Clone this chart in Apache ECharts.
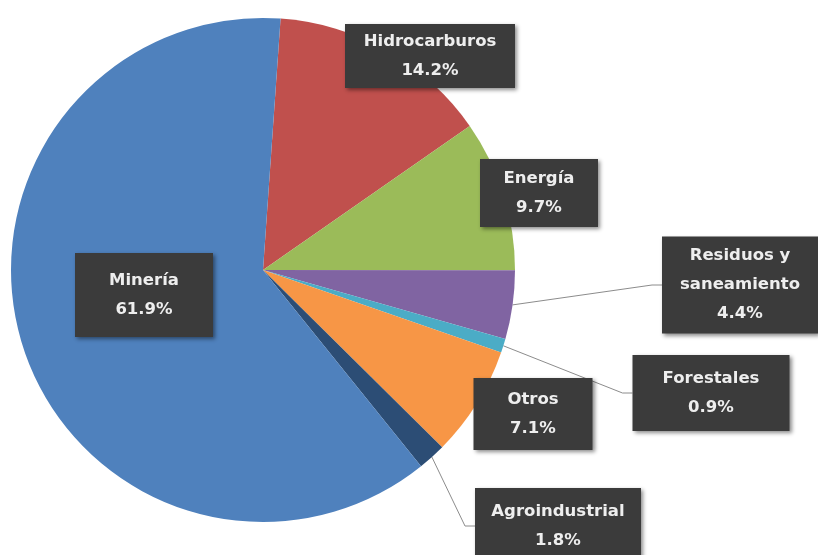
<!DOCTYPE html>
<html>
<head>
    <meta charset="utf-8">
    <title>ECharts</title>
    <script src="https://cdn.jsdelivr.net/npm/echarts@6/dist/echarts.min.js"></script>
</head>
<body style="margin:0;background:#fff;">
    <div id="main" style="width:818px;height:555px;"></div>
    <script type="text/javascript">
// sector data, clockwise from the top
var categories = ['Hidrocarburos', 'Energía', 'Residuos y\nsaneamiento', 'Forestales', 'Otros', 'Agroindustrial', 'Minería'];
var shares = [14.2, 9.7, 4.4, 0.9, 7.1, 1.8, 61.9];
var colors = ['#C0504D', '#9BBB59', '#8064A2', '#4BACC6', '#F79646', '#2C4D75', '#4F81BD'];

// label boxes: centre x, centre y, box width, vertical padding, leader line?
var boxes = [
    [430, 56, 170, 3, false],
    [539, 193, 118, 5, false],
    [740, 285, 156, 5, true],
    [711, 393, 157, 9, true],
    [533, 414, 119, 7, false],
    [558, 526, 166, 9, true],
    [144, 295, 138, 13, false]
];

var myChart = echarts.init(document.getElementById('main'));

var pieData = categories.map(function (name, i) {
    return {
        name: name,
        value: shares[i],
        itemStyle: {color: colors[i]},
        label: {width: boxes[i][2], padding: [boxes[i][3], 0]},
        labelLine: {show: boxes[i][4]}
    };
});

var option = {
    animation: false,
    backgroundColor: '#fff',
    series: [{
        type: 'pie',
        center: [263, 270],
        radius: 252,
        startAngle: 86,
        clockwise: true,
        avoidLabelOverlap: false,
        data: pieData,
        itemStyle: {borderWidth: 0},
        emphasis: {disabled: true},
        label: {
            show: true,
            position: 'outside',
            formatter: '{b}\n{c}%',
            color: '#eeeeee',
            fontFamily: 'DejaVu Sans',
            fontWeight: 'bold',
            fontSize: 16.5,
            lineHeight: 29,
            align: 'center',
            backgroundColor: '#3b3b3b',
            shadowColor: 'rgba(0,0,0,0.45)',
            shadowBlur: 4,
            shadowOffsetX: 2,
            shadowOffsetY: 2
        },
        labelLine: {
            length: 10,
            length2: 10,
            lineStyle: {color: '#8c8c8c', width: 1}
        },
        labelLayout: function (p) {
            var b = boxes[p.dataIndex];
            return {x: b[0], y: b[1], align: 'center', verticalAlign: 'middle'};
        }
    }]
};

myChart.setOption(option);
    </script>
</body>
</html>
